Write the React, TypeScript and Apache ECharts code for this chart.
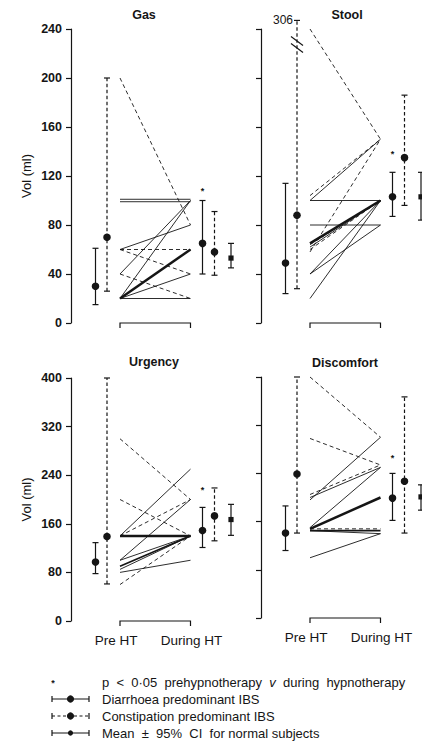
import React, { useEffect, useRef } from "react";
import * as echarts from "echarts";

// ---------- data ----------
const PANELS = ["Gas", "Stool", "Urgency", "Discomfort"];
const Y_MAX = [240, 240, 400, 400];
const Y_STEP = [40, 40, 80, 80];
const X_LABELS = ["Pre HT", "During HT"];

// group summaries per panel (Gas, Stool, Urgency, Discomfort)
const diaPreMean = [30, 49, 97, 141];
const diaPreLow = [15, 24, 78, 112];
const diaPreHigh = [61, 114, 129, 186];
const conPreMean = [70, 88, 139, 239];
const conPreLow = [26, 28, 61, 141];
const conPreHigh = [200, 306, 400, 400];
const diaPostMean = [65, 103, 149, 199];
const diaPostLow = [40, 87, 121, 162];
const diaPostHigh = [100, 123, 187, 240];
const conPostMean = [58, 135, 173, 227];
const conPostLow = [39, 96, 132, 141];
const conPostHigh = [91, 186, 219, 367];
const normMean = [53, 103, 167, 201];
const normLow = [45, 84, 141, 179];
const normHigh = [65, 123, 192, 221];
const sigMark = [110, 140, 220, 269];

// individual patients: [pre, during, number of overlapping patients]
const gasDiaLines = [[101, 101, 1], [99, 99, 1], [20, 20, 1], [20, 100, 1], [40, 100, 1], [20, 60, 3], [20, 40, 1], [60, 80, 1]];
const gasConLines = [[200, 80, 1], [60, 60, 1], [60, 40, 1], [40, 20, 1]];
const stoolDiaLines = [[100, 100, 1], [80, 80, 1], [100, 150, 1], [65, 100, 3], [62, 100, 1], [20, 100, 1], [40, 80, 1], [40, 100, 1]];
const stoolConLines = [[306, 150, 1], [104, 150, 1], [58, 150, 1], [64, 100, 1], [60, 100, 1]];
const urgDiaLines = [[140, 250, 1], [140, 140, 3], [100, 200, 1], [90, 140, 2], [85, 140, 1], [100, 140, 1], [80, 100, 1]];
const urgConLines = [[300, 200, 1], [200, 140, 1], [140, 200, 1], [60, 140, 1]];
const disDiaLines = [[196, 300, 1], [200, 250, 1], [150, 250, 1], [148, 200, 3], [145, 145, 2], [100, 140, 1], [145, 140, 1]];
const disConLines = [[400, 300, 1], [298, 254, 1], [205, 254, 1], [148, 148, 1]];

const DIA_LINES = [gasDiaLines, stoolDiaLines, urgDiaLines, disDiaLines];
const CON_LINES = [gasConLines, stoolConLines, urgConLines, disConLines];

const LEGEND_TEXT = [
  "p < 0·05 prehypnotherapy v during hypnotherapy",
  "Diarrhoea predominant IBS",
  "Constipation predominant IBS",
  "Mean ± 95% CI for normal subjects",
];

// ---------- layout ----------
const INK = "#151515";
const FONT = "'Liberation Sans', Arial, Helvetica, sans-serif";
const X = { diaPre: 24.5, conPre: 36, pre: 49, post: 119.5, diaPost: 131.5, conPost: 143.5, normal: 160 };
const GRIDS = [
  { left: 71, top: 29, width: 170, height: 294 },
  { left: 261, top: 29, width: 170, height: 294 },
  { left: 71, top: 378, width: 170, height: 243 },
  { left: 261, top: 377, width: 170, height: 241 },
];
const BREAK_SHOW = 247; // displayed position of the broken (306) value

const disp = (v: number, max: number) => (v > max ? BREAK_SHOW : v);

function buildOption() {
  const series: any[] = [];
  const xAxis: any[] = [];
  const yAxis: any[] = [];
  PANELS.forEach((_, i) => {
    const left = i % 2 === 0;
    const bottom = i >= 2;
    xAxis.push({
      gridIndex: i,
      type: "value",
      min: 0,
      max: 170,
      axisLine: { show: false },
      axisTick: { show: false },
      splitLine: { show: false },
      axisLabel: {
        show: bottom,
        customValues: [X.pre - 4, X.post + 1],
        formatter: (v: number) => (v < 90 ? X_LABELS[0] : X_LABELS[1]),
        fontFamily: FONT,
        fontSize: 13.5,
        color: INK,
        margin: 12,
      },
    });
    yAxis.push({
      gridIndex: i,
      type: "value",
      min: 0,
      max: Y_MAX[i],
      interval: Y_STEP[i],
      name: left ? "Vol (ml)" : "",
      nameLocation: "middle",
      nameGap: 38,
      nameTextStyle: { fontFamily: FONT, fontSize: 13, color: INK },
      axisLine: { show: true, lineStyle: { color: INK, width: 1.2 } },
      axisTick: { show: true, length: 5, lineStyle: { color: INK, width: 1.2 } },
      splitLine: { show: false },
      axisLabel: {
        show: left,
        fontFamily: FONT,
        fontSize: 12.5,
        fontWeight: "bold",
        color: INK,
        margin: 9,
      },
    });

    const max = Y_MAX[i];
    const lineSeries = (data: number[][], dashed: boolean) => ({
      type: "custom",
      xAxisIndex: i,
      yAxisIndex: i,
      clip: false,
      silent: true,
      data,
      renderItem: (_p: any, api: any) => {
        const a = api.coord([X.pre, Math.min(api.value(0), max)]);
        const b = api.coord([X.post, Math.min(api.value(1), max)]);
        const n = api.value(2);
        return {
          type: "line",
          shape: { x1: a[0], y1: a[1], x2: b[0], y2: b[1] },
          style: { stroke: INK, lineWidth: 0.9 + (n - 1) * 0.8, lineDash: dashed ? [4, 3] : null },
        };
      },
    });
    series.push(lineSeries(DIA_LINES[i], false));
    series.push(lineSeries(CON_LINES[i], true));

    // error bars: [x, mean, low, high, kind]
    series.push({
      type: "custom",
      xAxisIndex: i,
      yAxisIndex: i,
      clip: false,
      silent: true,
      data: [
        [X.diaPre, diaPreMean[i], diaPreLow[i], diaPreHigh[i], 0],
        [X.conPre, conPreMean[i], conPreLow[i], conPreHigh[i], 1],
        [X.diaPost, diaPostMean[i], diaPostLow[i], diaPostHigh[i], 0],
        [X.conPost, conPostMean[i], conPostLow[i], conPostHigh[i], 1],
        [X.normal, normMean[i], normLow[i], normHigh[i], 2],
      ],
      renderItem: (_p: any, api: any) => {
        const x = api.value(0);
        const kind = api.value(4);
        const pm = api.coord([x, api.value(1)]);
        const pl = api.coord([x, api.value(2)]);
        const ph = api.coord([x, disp(api.value(3), max)]);
        const dash = kind === 1 ? [3.5, 2.5] : null;
        const cw = 3;
        const st = { stroke: INK, lineWidth: 1.2 };
        return {
          type: "group",
          children: [
            { type: "line", shape: { x1: pm[0], y1: pl[1], x2: pm[0], y2: ph[1] }, style: { ...st, lineDash: dash } },
            { type: "line", shape: { x1: pm[0] - cw, y1: pl[1], x2: pm[0] + cw, y2: pl[1] }, style: st },
            { type: "line", shape: { x1: pm[0] - cw, y1: ph[1], x2: pm[0] + cw, y2: ph[1] }, style: st },
            kind === 2
              ? { type: "rect", shape: { x: pm[0] - 2.6, y: pm[1] - 2.6, width: 5.2, height: 5.2 }, style: { fill: INK } }
              : { type: "circle", shape: { cx: pm[0], cy: pm[1], r: 3.8 }, style: { fill: INK } },
          ],
        };
      },
    });

    // significance mark
    series.push({
      type: "custom",
      xAxisIndex: i,
      yAxisIndex: i,
      clip: false,
      silent: true,
      data: [[X.diaPost, sigMark[i]]],
      renderItem: (_p: any, api: any) => {
        const p = api.coord([api.value(0), api.value(1)]);
        return {
          type: "text",
          x: p[0],
          y: p[1] + 2.5,
          style: { text: "*", font: `bold 9px ${FONT}`, fill: INK, textAlign: "center", textVerticalAlign: "middle" },
        };
      },
    });

    // bracket joining Pre HT and During HT
    series.push({
      type: "custom",
      xAxisIndex: i,
      yAxisIndex: i,
      clip: false,
      silent: true,
      data: [[0]],
      renderItem: (_p: any, api: any) => {
        const a = api.coord([X.pre, 0]);
        const b = api.coord([X.post, 0]);
        return {
          type: "polyline",
          shape: { points: [[a[0], a[1] + 5], [a[0], a[1]], [b[0], b[1]], [b[0], b[1] + 5]] },
          style: { stroke: INK, lineWidth: 1.2, fill: null },
        };
      },
    });

    // axis break label on broken value
    if (conPreHigh[i] > max) {
      series.push({
        type: "custom",
        xAxisIndex: i,
        yAxisIndex: i,
        clip: false,
        silent: true,
        data: [[X.conPre, conPreHigh[i]]],
        renderItem: (_p: any, api: any) => {
          const p = api.coord([api.value(0), BREAK_SHOW]);
          const t = api.coord([api.value(0), max]);
          const mk = (cy: number) => ({
            type: "line",
            shape: { x1: p[0] - 6, y1: cy - 4.5, x2: p[0] + 6, y2: cy + 4.5 },
            style: { stroke: INK, lineWidth: 1.2 },
          });
          return {
            type: "group",
            children: [
              {
                type: "text",
                x: p[0] - 4,
                y: p[1] - 0.5,
                style: { text: String(api.value(1)), font: `12px ${FONT}`, fill: INK, textAlign: "right", textVerticalAlign: "middle" },
              },
              mk(t[1] + 12),
              mk(t[1] + 19),
            ],
          };
        },
      });
    }
  });

  // titles
  const titlePos = [
    [144, 15],
    [347, 15],
    [154, 362],
    [345, 363],
  ];
  const graphic: any[] = PANELS.map((name, i) => ({
    type: "text",
    x: titlePos[i][0],
    y: titlePos[i][1],
    style: { text: name, font: `bold 12.5px ${FONT}`, fill: INK, textAlign: "center", textVerticalAlign: "middle" },
  }));

  // legend
  const rowY = [682, 699, 716, 733];
  const x1 = 52, x2 = 89, xm = 70.5, tx = 102;
  graphic.push({
    type: "text",
    x: 53,
    y: rowY[0] + 1,
    style: { text: "*", font: `bold 9px ${FONT}`, fill: INK, textAlign: "center", textVerticalAlign: "middle" },
  });
  [1, 2, 3].forEach((r) => {
    const y = rowY[r];
    const dash = r === 2 ? [3, 2.5] : null;
    graphic.push(
      { type: "line", shape: { x1, y1: y, x2, y2: y }, style: { stroke: INK, lineWidth: 1.2, lineDash: dash } },
      { type: "line", shape: { x1, y1: y - 3, x2: x1, y2: y + 3 }, style: { stroke: INK, lineWidth: 1.2 } },
      { type: "line", shape: { x1: x2, y1: y - 3, x2, y2: y + 3 }, style: { stroke: INK, lineWidth: 1.2 } },
      { type: "circle", shape: { cx: xm, cy: y, r: r === 3 ? 2.6 : 3.6 }, style: { fill: INK } }
    );
  });
  const LF = 13;
  LEGEND_TEXT.forEach((t, r) => {
    if (r === 0) {
      graphic.push({
        type: "text",
        x: tx,
        y: rowY[0],
        style: {
          text: "{n|p  <  0·05  prehypnotherapy  }{i|v}{n|  during  hypnotherapy}",
          rich: {
            n: { font: `${LF}px ${FONT}`, fill: INK },
            i: { font: `italic ${LF}px ${FONT}`, fill: INK },
          },
          textAlign: "left",
          textVerticalAlign: "middle",
        },
      });
    } else {
      graphic.push({
        type: "text",
        x: tx,
        y: rowY[r],
        style: {
          text: r === 3 ? t.replace(" ± ", "  ±  ").replace(" CI ", "  CI  ") : t,
          font: `${LF}px ${FONT}`,
          fill: INK,
          textAlign: "left",
          textVerticalAlign: "middle",
        },
      });
    }
  });

  return {
    animation: false,
    backgroundColor: "#ffffff",
    grid: GRIDS.map((g) => ({ ...g, containLabel: false, outerBoundsMode: "none" })),
    xAxis,
    yAxis,
    series,
    graphic,
  };
}

export default function App() {
  const ref = useRef<HTMLDivElement>(null);
  useEffect(() => {
    if (!ref.current) return;
    const chart = echarts.init(ref.current, undefined, { renderer: "svg" });
    chart.setOption(buildOption() as any);
    return () => chart.dispose();
  }, []);
  return (
    <div
      ref={ref}
      style={{ position: "fixed", left: 0, top: 0, width: 422, height: 755, background: "#fff" }}
    />
  );
}
